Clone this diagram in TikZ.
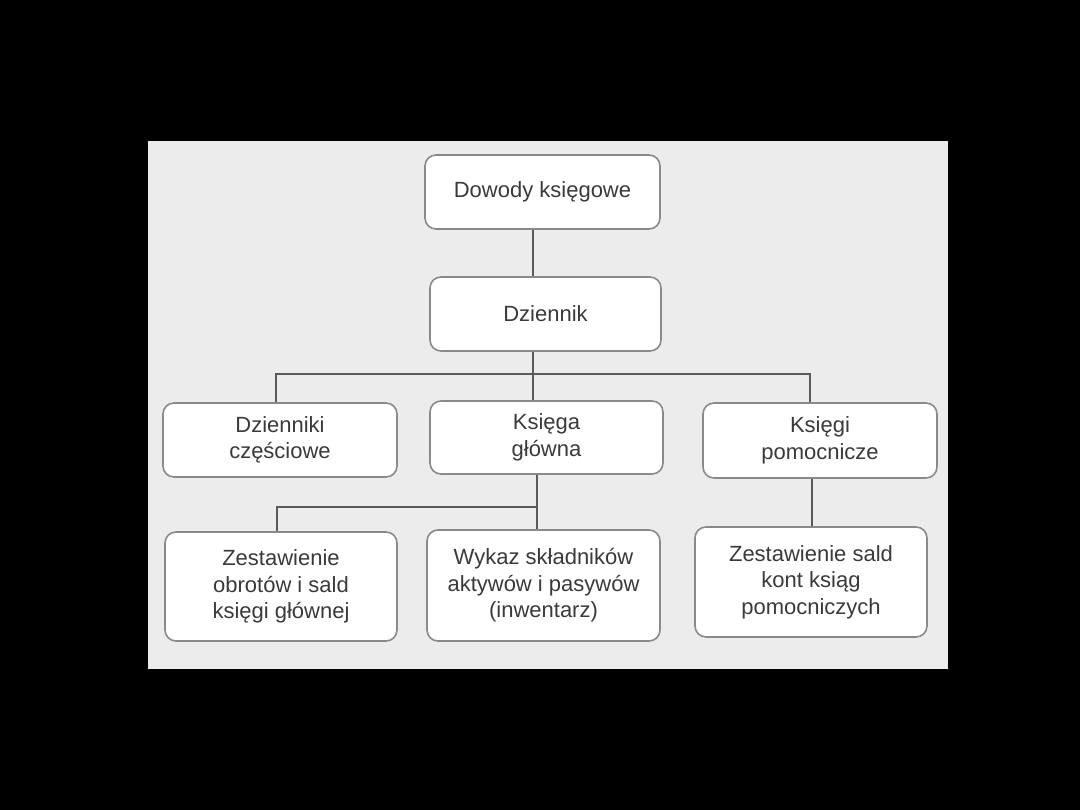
\documentclass[tikz,border=0pt]{standalone}
\usepackage{fontspec}
\setmainfont{Liberation Sans}
\definecolor{panel}{HTML}{ECECEC}
\definecolor{bordercol}{HTML}{8A8A8A}
\definecolor{linecol}{HTML}{5A5A5A}
\definecolor{textcol}{HTML}{3A3A3A}
\begin{document}
\begin{tikzpicture}[x=1pt,y=-1pt,
  box/.style={draw=bordercol, line width=1.6pt, fill=white, rounded corners=11pt,
    align=center, text=textcol, inner sep=2pt,
    font=\fontsize{22}{26.5}\selectfont},
  conn/.style={draw=linecol, line width=2.6pt}]
\fill[black] (0,0) rectangle (1080,810);
\fill[panel] (148,141) rectangle (948,669);
\useasboundingbox (0,0) rectangle (1080,810);

\node[box, minimum width=235pt, minimum height=74pt] (n1) at (542.5,192) {Dowody księgowe};
\node[box, minimum width=231pt, minimum height=74pt] (n2) at (545.5,314) {Dziennik};
\node[box, minimum width=234pt, minimum height=74pt] (a) at (280,440) {Dzienniki\\częściowe};
\node[box, minimum width=233pt, minimum height=73pt] (b) at (546.5,437.5) {Księga\\główna};
\node[box, minimum width=234pt, minimum height=75pt] (c) at (820,440.5) {Księgi\\pomocnicze};
\node[box, minimum width=232pt, minimum height=109pt] (d) at (281,586.5) {Zestawienie\\obrotów i sald\\księgi głównej};
\node[box, minimum width=233pt, minimum height=111pt] (e) at (543.5,585.5) {Wykaz składników\\aktywów i pasywów\\(inwentarz)};
\node[box, minimum width=232pt, minimum height=110pt] (f) at (811,582) {Zestawienie sald\\kont ksiąg\\pomocniczych};

\coordinate (x1) at (533,374);
\coordinate (xa) at (276,374);
\coordinate (xc) at (810,374);
\coordinate (x2) at (537,507);
\coordinate (xd) at (277,507);
\coordinate (xf) at (812,0);

\draw[conn] (n1.south -| x1) -- (n2.north -| x1);
\draw[conn] (n2.south -| x1) -- (b.north -| x1);
\draw[conn] (a.north -| xa) -- (xa) -- (xc) -- (c.north -| xc);
\draw[conn] (b.south -| x2) -- (e.north -| x2);
\draw[conn] (x2) -- (xd) -- (d.north -| xd);
\draw[conn] (c.south -| xf) -- (f.north -| xf);
\end{tikzpicture}
\end{document}
